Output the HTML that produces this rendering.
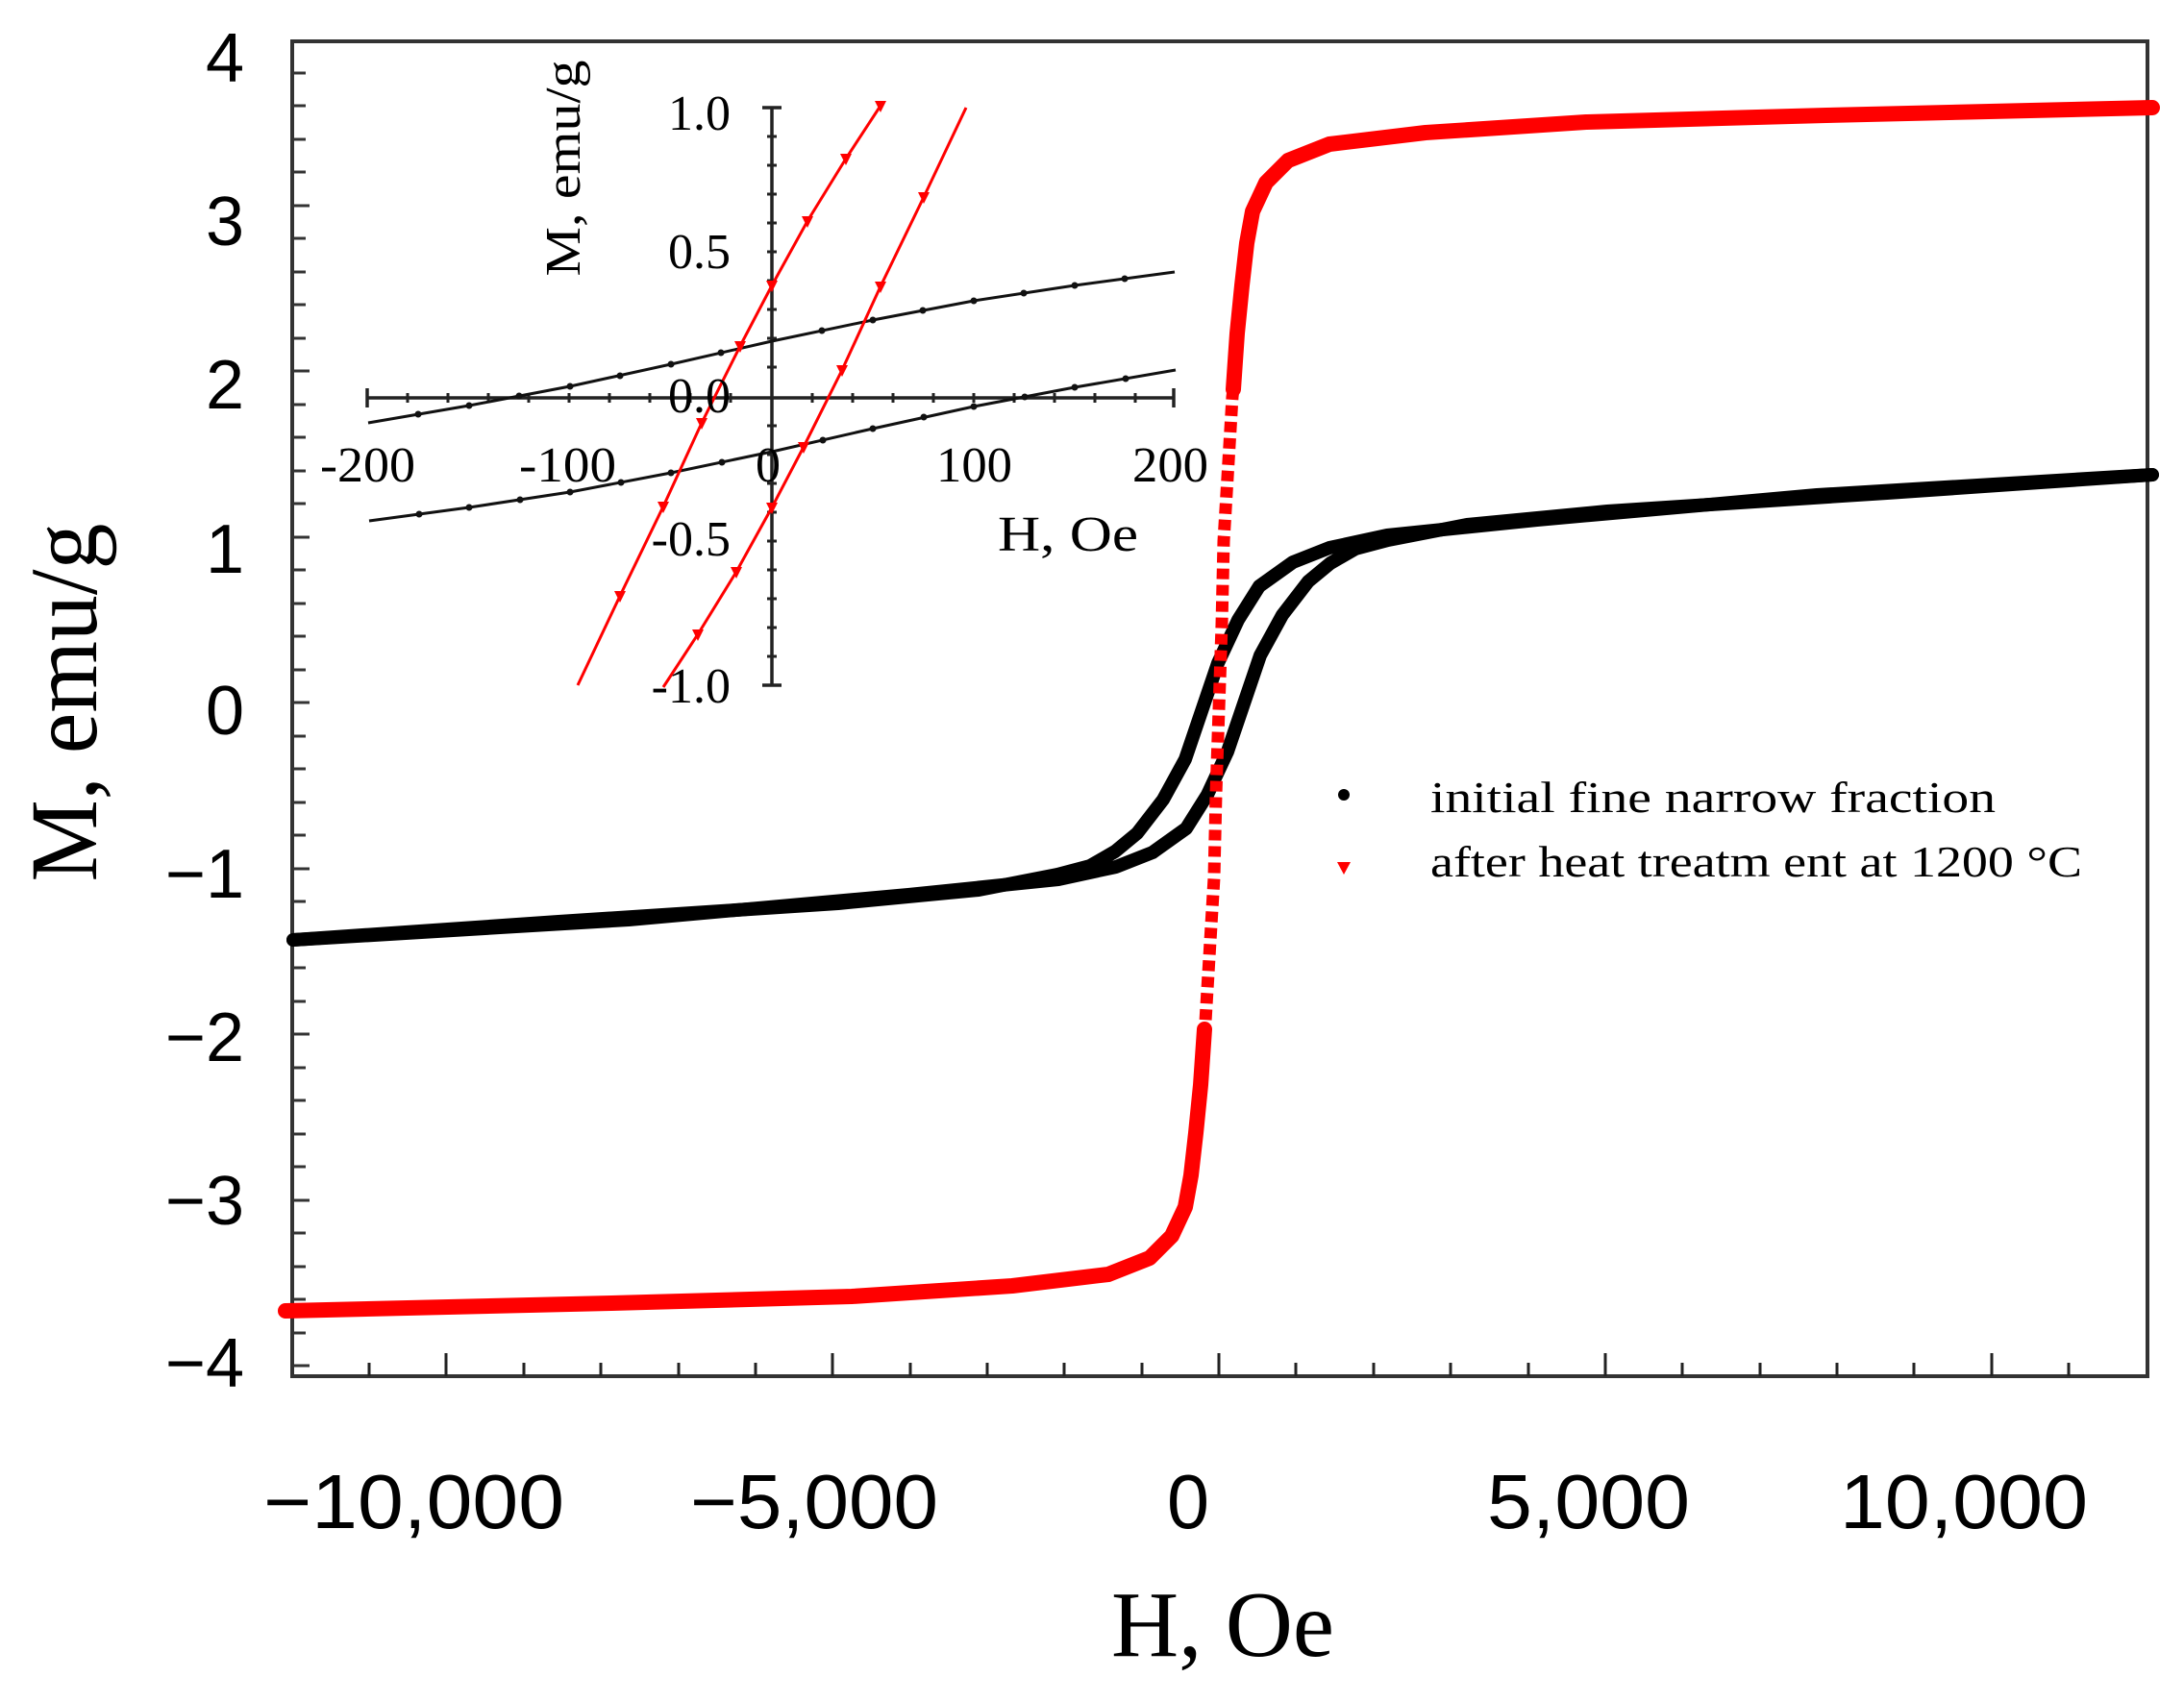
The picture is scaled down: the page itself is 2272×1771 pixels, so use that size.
<!DOCTYPE html>
<html><head><meta charset="utf-8"><style>
html,body{margin:0;padding:0;background:#fff;}
svg{display:block;}
</style></head><body>
<svg width="2272" height="1771" viewBox="0 0 2272 1771" xmlns="http://www.w3.org/2000/svg">
<rect width="2272" height="1771" fill="#fff"/>
<rect x="304" y="43" width="1930" height="1389" fill="none" stroke="#333" stroke-width="4"/>
<g stroke="#222" stroke-width="3">
<line x1="384" y1="1432" x2="384" y2="1418"/><line x1="464" y1="1432" x2="464" y2="1408"/>
<line x1="545" y1="1432" x2="545" y2="1418"/><line x1="625" y1="1432" x2="625" y2="1418"/>
<line x1="706" y1="1432" x2="706" y2="1418"/><line x1="786" y1="1432" x2="786" y2="1418"/>
<line x1="866" y1="1432" x2="866" y2="1408"/><line x1="947" y1="1432" x2="947" y2="1418"/>
<line x1="1027" y1="1432" x2="1027" y2="1418"/><line x1="1107" y1="1432" x2="1107" y2="1418"/>
<line x1="1188" y1="1432" x2="1188" y2="1418"/><line x1="1268" y1="1432" x2="1268" y2="1408"/>
<line x1="1348" y1="1432" x2="1348" y2="1418"/><line x1="1429" y1="1432" x2="1429" y2="1418"/>
<line x1="1509" y1="1432" x2="1509" y2="1418"/><line x1="1590" y1="1432" x2="1590" y2="1418"/>
<line x1="1670" y1="1432" x2="1670" y2="1408"/><line x1="1750" y1="1432" x2="1750" y2="1418"/>
<line x1="1831" y1="1432" x2="1831" y2="1418"/><line x1="1911" y1="1432" x2="1911" y2="1418"/>
<line x1="1991" y1="1432" x2="1991" y2="1418"/><line x1="2072" y1="1432" x2="2072" y2="1408"/>
<line x1="2152" y1="1432" x2="2152" y2="1418"/>
</g>
<g stroke="#333" stroke-width="3">
<line x1="304" y1="76" x2="318" y2="76"/><line x1="304" y1="110" x2="318" y2="110"/><line x1="304" y1="145" x2="318" y2="145"/><line x1="304" y1="179" x2="318" y2="179"/><line x1="304" y1="214" x2="322" y2="214"/>
<line x1="304" y1="248" x2="318" y2="248"/><line x1="304" y1="283" x2="318" y2="283"/><line x1="304" y1="317" x2="318" y2="317"/><line x1="304" y1="352" x2="318" y2="352"/><line x1="304" y1="386" x2="322" y2="386"/>
<line x1="304" y1="421" x2="318" y2="421"/><line x1="304" y1="455" x2="318" y2="455"/><line x1="304" y1="490" x2="318" y2="490"/><line x1="304" y1="524" x2="318" y2="524"/><line x1="304" y1="559" x2="322" y2="559"/>
<line x1="304" y1="593" x2="318" y2="593"/><line x1="304" y1="628" x2="318" y2="628"/><line x1="304" y1="662" x2="318" y2="662"/><line x1="304" y1="697" x2="318" y2="697"/><line x1="304" y1="731" x2="322" y2="731"/>
<line x1="304" y1="766" x2="318" y2="766"/><line x1="304" y1="800" x2="318" y2="800"/><line x1="304" y1="835" x2="318" y2="835"/><line x1="304" y1="869" x2="318" y2="869"/><line x1="304" y1="904" x2="322" y2="904"/>
<line x1="304" y1="938" x2="318" y2="938"/><line x1="304" y1="973" x2="318" y2="973"/><line x1="304" y1="1007" x2="318" y2="1007"/><line x1="304" y1="1042" x2="318" y2="1042"/><line x1="304" y1="1076" x2="322" y2="1076"/>
<line x1="304" y1="1111" x2="318" y2="1111"/><line x1="304" y1="1145" x2="318" y2="1145"/><line x1="304" y1="1180" x2="318" y2="1180"/><line x1="304" y1="1214" x2="318" y2="1214"/><line x1="304" y1="1249" x2="322" y2="1249"/>
<line x1="304" y1="1283" x2="318" y2="1283"/><line x1="304" y1="1318" x2="318" y2="1318"/><line x1="304" y1="1352" x2="318" y2="1352"/><line x1="304" y1="1387" x2="318" y2="1387"/><line x1="304" y1="1421" x2="322" y2="1421"/>
</g>
<g font-family="Liberation Sans, sans-serif" font-size="72" fill="#000" text-anchor="end">
<text x="254" y="85">4</text>
<text x="254" y="255">3</text>
<text x="254" y="425">2</text>
<text x="254" y="596">1</text>
<text x="254" y="764">0</text>
<text x="254" y="934">−1</text>
<text x="254" y="1104">−2</text>
<text x="254" y="1274">−3</text>
<text x="254" y="1443">−4</text>
</g>
<g font-family="Liberation Sans, sans-serif" font-size="80" fill="#000">
<text x="274" y="1590" textLength="313" lengthAdjust="spacingAndGlyphs">−10,000</text>
<text x="718" y="1590" textLength="258" lengthAdjust="spacingAndGlyphs">−5,000</text>
<text x="1214" y="1590" textLength="44" lengthAdjust="spacingAndGlyphs">0</text>
<text x="1547" y="1590" textLength="211" lengthAdjust="spacingAndGlyphs">5,000</text>
<text x="1914" y="1590" textLength="258" lengthAdjust="spacingAndGlyphs">10,000</text>
</g>
<text x="1156" y="1723" font-family="Liberation Serif, serif" font-size="98" textLength="232" lengthAdjust="spacingAndGlyphs">H, Oe</text>
<text transform="translate(100,731) rotate(-90)" text-anchor="middle" font-family="Liberation Serif, serif" font-size="100" textLength="373" lengthAdjust="spacingAndGlyphs">M, emu/g</text>

<g fill="none" stroke="#000" stroke-width="14" stroke-linejoin="round" stroke-linecap="round">
<path d="M305,978 L581,959 L872,940 L1018,926 L1100,910 L1134,901 L1160,886 L1183,867 L1210,832 L1233,790 L1250,740 L1267,690 L1288,645 L1310,610 L1345,585 L1383,570 L1443,557 L1599,541 L1890,515 L2239,494"/>
<path d="M2239,494 L1963,513 L1672,532 L1526,546 L1444,562 L1410,571 L1384,586 L1361,605 L1334,640 L1311,682 L1294,732 L1277,782 L1256,827 L1234,862 L1199,887 L1161,902 L1101,915 L945,931 L654,957 L305,978"/>
</g>
<g fill="none" stroke="#f00" stroke-linejoin="round" stroke-linecap="round">
<path stroke-width="16" d="M2239,112 L1900,120 L1650,127 L1483,138 L1383,150 L1340,167 L1317,190 L1303,220 L1297,253 L1292,297 L1287,347 L1283,405"/>
<path stroke-width="13" stroke-dasharray="11 6" stroke-linecap="butt" d="M1283,405 L1282,413 L1278,480 L1273,563 L1271,650 L1268,738 L1265,826 L1263,913 L1258,996 L1254,1063 L1253,1071"/>
<path stroke-width="16" d="M1253,1071 L1249,1129 L1244,1179 L1239,1223 L1233,1256 L1219,1286 L1196,1309 L1153,1326 L1053,1338 L886,1349 L636,1356 L297,1364"/>
</g>

<circle cx="1398" cy="827" r="6" fill="#000"/>
<polygon points="1391,897 1405,897 1398,910" fill="#f00"/>
<g font-family="Liberation Serif, serif" font-size="46" fill="#000">
<text x="1488" y="845" textLength="588" lengthAdjust="spacingAndGlyphs">initial fine narrow fraction</text>
<text x="1488" y="912" textLength="678" lengthAdjust="spacingAndGlyphs">after heat treatm ent at 1200 °C</text>
</g>

<g stroke="#222" stroke-width="3.5">
<line x1="803" y1="112" x2="803" y2="713"/>
<line x1="382" y1="414" x2="1221" y2="414"/>
<line x1="382" y1="404" x2="382" y2="424"/><line x1="1221" y1="404" x2="1221" y2="424"/>
<line x1="793" y1="112" x2="813" y2="112"/><line x1="793" y1="713" x2="813" y2="713"/>
</g>
<g stroke="#222" stroke-width="3">
<line x1="424" y1="409" x2="424" y2="419"/><line x1="466" y1="409" x2="466" y2="419"/><line x1="508" y1="409" x2="508" y2="419"/><line x1="550" y1="409" x2="550" y2="419"/><line x1="592" y1="409" x2="592" y2="419"/><line x1="634" y1="409" x2="634" y2="419"/><line x1="676" y1="409" x2="676" y2="419"/><line x1="718" y1="409" x2="718" y2="419"/><line x1="760" y1="409" x2="760" y2="419"/>
<line x1="845" y1="409" x2="845" y2="419"/><line x1="887" y1="409" x2="887" y2="419"/><line x1="929" y1="409" x2="929" y2="419"/><line x1="971" y1="409" x2="971" y2="419"/><line x1="1013" y1="409" x2="1013" y2="419"/><line x1="1055" y1="409" x2="1055" y2="419"/><line x1="1097" y1="409" x2="1097" y2="419"/><line x1="1139" y1="409" x2="1139" y2="419"/><line x1="1181" y1="409" x2="1181" y2="419"/>
<line x1="798" y1="142" x2="808" y2="142"/><line x1="798" y1="172" x2="808" y2="172"/><line x1="798" y1="202" x2="808" y2="202"/><line x1="798" y1="232" x2="808" y2="232"/><line x1="798" y1="262" x2="808" y2="262"/><line x1="798" y1="292" x2="808" y2="292"/><line x1="798" y1="322" x2="808" y2="322"/><line x1="798" y1="352" x2="808" y2="352"/><line x1="798" y1="382" x2="808" y2="382"/>
<line x1="798" y1="443" x2="808" y2="443"/><line x1="798" y1="473" x2="808" y2="473"/><line x1="798" y1="503" x2="808" y2="503"/><line x1="798" y1="533" x2="808" y2="533"/><line x1="798" y1="563" x2="808" y2="563"/><line x1="798" y1="593" x2="808" y2="593"/><line x1="798" y1="623" x2="808" y2="623"/><line x1="798" y1="653" x2="808" y2="653"/><line x1="798" y1="683" x2="808" y2="683"/>
</g>
<g fill="none" stroke="#111" stroke-width="3">
<path d="M383,440 L488,422 L593,402 L698,379 L803,355 L908,333 L1013,313 L1118,297 L1222,283"/>
<path d="M1223,385 L1118,403 L1013,423 L908,446 L803,470 L698,492 L593,512 L488,528 L384,542"/>
</g>
<g fill="#111">
<circle cx="435" cy="431" r="3.5"/><circle cx="488" cy="422" r="3.5"/><circle cx="540" cy="412" r="3.5"/><circle cx="593" cy="402" r="3.5"/><circle cx="645" cy="391" r="3.5"/><circle cx="698" cy="379" r="3.5"/><circle cx="750" cy="367" r="3.5"/><circle cx="855" cy="344" r="3.5"/><circle cx="908" cy="333" r="3.5"/><circle cx="960" cy="323" r="3.5"/><circle cx="1013" cy="313" r="3.5"/><circle cx="1065" cy="305" r="3.5"/><circle cx="1118" cy="297" r="3.5"/><circle cx="1170" cy="290" r="3.5"/>
<circle cx="1171" cy="394" r="3.5"/><circle cx="1118" cy="403" r="3.5"/><circle cx="1066" cy="413" r="3.5"/><circle cx="1013" cy="423" r="3.5"/><circle cx="961" cy="434" r="3.5"/><circle cx="908" cy="446" r="3.5"/><circle cx="856" cy="458" r="3.5"/><circle cx="751" cy="481" r="3.5"/><circle cx="698" cy="492" r="3.5"/><circle cx="646" cy="502" r="3.5"/><circle cx="593" cy="512" r="3.5"/><circle cx="541" cy="520" r="3.5"/><circle cx="488" cy="528" r="3.5"/><circle cx="436" cy="535" r="3.5"/>
</g>
<g fill="none" stroke="#f00" stroke-width="3">
<path d="M916,110 L880,165 L840,230 L803,297 L770,360 L730,440 L690,527 L645,620 L601,713"/>
<path d="M690,715 L726,660 L766,595 L803,528 L836,465 L876,385 L916,298 L961,205 L1005,112"/>
</g>
<g fill="#f00">
<polygon points="910,105 922,105 916,117"/><polygon points="874,160 886,160 880,172"/><polygon points="834,225 846,225 840,237"/><polygon points="797,292 809,292 803,304"/><polygon points="764,355 776,355 770,367"/><polygon points="724,435 736,435 730,447"/><polygon points="684,522 696,522 690,534"/><polygon points="639,615 651,615 645,627"/>
<polygon points="720,655 732,655 726,667"/><polygon points="760,590 772,590 766,602"/><polygon points="797,523 809,523 803,535"/><polygon points="830,460 842,460 836,472"/><polygon points="870,380 882,380 876,392"/><polygon points="910,293 922,293 916,305"/><polygon points="955,200 967,200 961,212"/>
</g>
<g font-family="Liberation Serif, serif" font-size="52" fill="#000">
<text x="760" y="135" text-anchor="end">1.0</text>
<text x="760" y="279" text-anchor="end">0.5</text>
<text x="760" y="429" text-anchor="end">0.0</text>
<text x="760" y="578" text-anchor="end">-0.5</text>
<text x="760" y="731" text-anchor="end">-1.0</text>
<text x="333" y="501" textLength="99" lengthAdjust="spacingAndGlyphs">-200</text>
<text x="540" y="501" textLength="101" lengthAdjust="spacingAndGlyphs">-100</text>
<text x="786" y="501">0</text>
<text x="974" y="501" textLength="79" lengthAdjust="spacingAndGlyphs">100</text>
<text x="1178" y="501" textLength="79" lengthAdjust="spacingAndGlyphs">200</text>
<text x="1038" y="573" textLength="146" lengthAdjust="spacingAndGlyphs">H, Oe</text>
<text transform="translate(603,175) rotate(-90)" text-anchor="middle" textLength="225" lengthAdjust="spacingAndGlyphs">M,  emu/g</text>
</g>
</svg>
</body></html>
